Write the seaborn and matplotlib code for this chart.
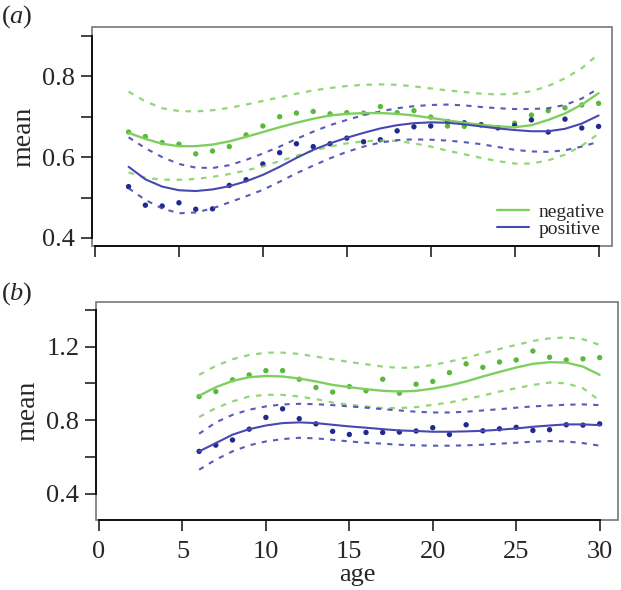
import numpy as np
import pandas as pd
import matplotlib
matplotlib.use('Agg')
import matplotlib.pyplot as plt
from matplotlib.lines import Line2D
from matplotlib.patches import Rectangle
import seaborn as sns

# panel (a): ages 2..30
age_a = list(range(2, 31))
neg_pts_a = [0.662, 0.651, 0.636, 0.632, 0.608, 0.615, 0.626, 0.655, 0.677, 0.700,
             0.709, 0.713, 0.707, 0.710, 0.709, 0.725, 0.710, 0.715, 0.699, 0.677,
             0.676, 0.680, 0.672, 0.684, 0.704, 0.715, 0.722, 0.729, 0.733]
pos_pts_a = [0.527, 0.481, 0.479, 0.487, 0.471, 0.472, 0.530, 0.544, 0.583, 0.611,
             0.633, 0.626, 0.633, 0.647, 0.638, 0.643, 0.665, 0.675, 0.677, 0.688,
             0.685, 0.680, 0.673, 0.678, 0.692, 0.662, 0.694, 0.672, 0.676]
neg_fit_a = [0.660, 0.645, 0.633, 0.627, 0.627, 0.631, 0.639, 0.650, 0.662, 0.674,
             0.685, 0.695, 0.703, 0.707, 0.709, 0.709, 0.707, 0.703, 0.697, 0.691,
             0.685, 0.680, 0.676, 0.674, 0.679, 0.692, 0.708, 0.730, 0.758]
neg_hi_a = [0.762, 0.738, 0.721, 0.714, 0.713, 0.716, 0.722, 0.730, 0.739, 0.748,
            0.757, 0.765, 0.771, 0.776, 0.779, 0.780, 0.779, 0.775, 0.770, 0.765,
            0.761, 0.757, 0.755, 0.757, 0.763, 0.776, 0.795, 0.820, 0.855]
neg_lo_a = [0.562, 0.549, 0.544, 0.544, 0.546, 0.551, 0.558, 0.567, 0.577, 0.590,
            0.603, 0.616, 0.626, 0.634, 0.639, 0.641, 0.640, 0.634, 0.626, 0.616,
            0.607, 0.598, 0.590, 0.584, 0.584, 0.592, 0.606, 0.628, 0.658]
pos_fit_a = [0.576, 0.545, 0.527, 0.518, 0.516, 0.520, 0.528, 0.540, 0.556, 0.576,
             0.598, 0.618, 0.634, 0.648, 0.660, 0.671, 0.679, 0.684, 0.686, 0.685,
             0.681, 0.676, 0.671, 0.667, 0.664, 0.664, 0.670, 0.683, 0.703]
pos_hi_a = [0.649, 0.622, 0.600, 0.583, 0.574, 0.573, 0.580, 0.593, 0.609, 0.626,
            0.645, 0.663, 0.679, 0.692, 0.704, 0.713, 0.721, 0.726, 0.729, 0.730,
            0.728, 0.724, 0.721, 0.719, 0.719, 0.721, 0.729, 0.745, 0.770]
pos_lo_a = [0.523, 0.494, 0.473, 0.461, 0.463, 0.473, 0.488, 0.503, 0.519, 0.539,
            0.560, 0.579, 0.597, 0.613, 0.626, 0.636, 0.642, 0.644, 0.643, 0.641,
            0.637, 0.632, 0.625, 0.618, 0.614, 0.613, 0.617, 0.626, 0.638]

# panel (b): ages 6..30
age_b = list(range(6, 31))
neg_pts_b = [0.929, 0.956, 1.020, 1.047, 1.070, 1.070, 1.023, 0.978, 0.953, 0.983,
             0.960, 1.023, 0.947, 0.996, 1.011, 1.059, 1.107, 1.088, 1.117, 1.128,
             1.177, 1.143, 1.128, 1.134, 1.141]
pos_pts_b = [0.630, 0.664, 0.692, 0.751, 0.815, 0.862, 0.808, 0.780, 0.739, 0.722,
             0.733, 0.733, 0.735, 0.741, 0.759, 0.722, 0.775, 0.742, 0.753, 0.761,
             0.744, 0.748, 0.775, 0.773, 0.780]
neg_fit_b = [0.933, 0.980, 1.014, 1.034, 1.041, 1.038, 1.027, 1.011, 0.992, 0.980,
             0.969, 0.960, 0.956, 0.960, 0.972, 0.989, 1.011, 1.038, 1.063, 1.087,
             1.107, 1.116, 1.114, 1.092, 1.047]
neg_hi_b = [1.047, 1.096, 1.132, 1.155, 1.168, 1.168, 1.161, 1.146, 1.132, 1.117,
            1.105, 1.092, 1.085, 1.088, 1.101, 1.119, 1.141, 1.164, 1.188, 1.210,
            1.232, 1.246, 1.251, 1.241, 1.210]
neg_lo_b = [0.817, 0.866, 0.902, 0.929, 0.938, 0.938, 0.929, 0.915, 0.896, 0.884,
            0.875, 0.866, 0.866, 0.871, 0.884, 0.896, 0.915, 0.934, 0.956, 0.974,
            0.992, 1.005, 1.001, 0.974, 0.907]
pos_fit_b = [0.630, 0.675, 0.721, 0.751, 0.771, 0.784, 0.788, 0.784, 0.775, 0.766,
             0.759, 0.751, 0.744, 0.741, 0.737, 0.737, 0.739, 0.742, 0.748, 0.755,
             0.764, 0.771, 0.777, 0.777, 0.773]
pos_hi_b = [0.726, 0.788, 0.829, 0.857, 0.875, 0.886, 0.889, 0.887, 0.882, 0.875,
            0.868, 0.860, 0.853, 0.846, 0.842, 0.842, 0.846, 0.853, 0.860, 0.868,
            0.875, 0.880, 0.884, 0.886, 0.882]
pos_lo_b = [0.530, 0.585, 0.630, 0.663, 0.684, 0.697, 0.704, 0.701, 0.693, 0.684,
            0.677, 0.672, 0.666, 0.663, 0.661, 0.661, 0.663, 0.666, 0.672, 0.677,
            0.683, 0.686, 0.684, 0.675, 0.661]

green_line = '#7fcf5f'
green_pts = '#5cb83c'
blue_line = '#4848b0'
blue_pts = '#1f2a8c'

sns.set_style('white')
plt.rcParams['font.family'] = ['Liberation Serif', 'DejaVu Serif']
plt.rcParams['mathtext.fontset'] = 'custom'
plt.rcParams['mathtext.it'] = 'Liberation Serif:italic'
plt.rcParams['mathtext.rm'] = 'Liberation Serif'

fig = plt.figure(figsize=(6.21, 5.90), dpi=100)
ax_a = fig.add_axes([92 / 621, 1 - 246 / 590, 520 / 621, 219 / 590])
ax_b = fig.add_axes([96 / 621, 1 - 520 / 590, 522 / 621, 218 / 590])


def draw_panel(ax, ages, neg_pts, pos_pts, neg_fit, neg_hi, neg_lo,
               pos_fit, pos_hi, pos_lo):
    df = pd.DataFrame({'age': ages, 'neg_pts': neg_pts, 'pos_pts': pos_pts,
                       'neg_fit': neg_fit, 'neg_hi': neg_hi, 'neg_lo': neg_lo,
                       'pos_fit': pos_fit, 'pos_hi': pos_hi, 'pos_lo': pos_lo})
    for col in ['neg_hi', 'neg_lo']:
        sns.lineplot(data=df, x='age', y=col, ax=ax, color=green_line, lw=1.6,
                     linestyle=(0, (2.5, 3)), alpha=0.85)
    for col in ['pos_hi', 'pos_lo']:
        sns.lineplot(data=df, x='age', y=col, ax=ax, color=blue_line, lw=1.5,
                     linestyle=(0, (2.5, 3)), alpha=0.9)
    sns.lineplot(data=df, x='age', y='neg_fit', ax=ax, color=green_line, lw=1.7)
    sns.lineplot(data=df, x='age', y='pos_fit', ax=ax, color=blue_line, lw=1.5)
    sns.scatterplot(data=df, x='age', y='neg_pts', ax=ax, color=green_pts, s=15,
                    edgecolor='none')
    sns.scatterplot(data=df, x='age', y='pos_pts', ax=ax, color=blue_pts, s=15,
                    edgecolor='none')


draw_panel(ax_a, age_a, neg_pts_a, pos_pts_a, neg_fit_a, neg_hi_a, neg_lo_a,
           pos_fit_a, pos_hi_a, pos_lo_a)
draw_panel(ax_b, age_b, neg_pts_b, pos_pts_b, neg_fit_b, neg_hi_b, neg_lo_b,
           pos_fit_b, pos_hi_b, pos_lo_b)

ax_a.set_xlim(-0.18, 30.8)
ax_a.set_ylim(0.38, 0.922)
ax_b.set_xlim(-0.18, 31.1)
ax_b.set_ylim(0.256, 1.444)

ax_a.set_yticks([0.4, 0.5, 0.6, 0.7, 0.8, 0.9])
ax_a.set_yticklabels(['0.4', '', '0.6', '', '0.8', ''])
ax_b.set_yticks([0.4, 0.6, 0.8, 1.0, 1.2, 1.4])
ax_b.set_yticklabels(['0.4', '', '0.8', '', '1.2', ''])
for ax in (ax_a, ax_b):
    ax.set_xticks([0, 5, 10, 15, 20, 25, 30])
    ax.tick_params(axis='both', direction='out', length=8, width=1.2,
                   color='#222222', labelsize=19, pad=4, left=True, bottom=True)
    ax.tick_params(axis='x', pad=7)
    for side in ['top', 'right']:
        ax.spines[side].set_visible(False)
    ax.spines['left'].set_color('#111111')
    ax.spines['bottom'].set_color('#111111')
    ax.spines['left'].set_linewidth(1.4)
    ax.spines['bottom'].set_linewidth(1.4)
    ax.spines['bottom'].set_bounds(0, 30)
    ax.add_patch(Rectangle((0, 0), 1, 1, transform=ax.transAxes, fill=False,
                           edgecolor='#777777', lw=1.2, clip_on=False, zorder=0.5))
    ax.set_ylabel('mean', fontsize=20, labelpad=4)

ax_a.spines['left'].set_bounds(0.4, 0.9)
ax_b.spines['left'].set_bounds(0.4, 1.4)
ax_a.set_xticklabels([])
ax_a.set_xlabel('')
ax_b.set_xlabel('age', fontsize=19, labelpad=1)

handles = [Line2D([], [], color=green_line, lw=1.7),
           Line2D([], [], color=blue_line, lw=1.5)]
ax_a.legend(handles, ['negative', 'positive'], loc='lower right', frameon=False,
            fontsize=14, handlelength=1.6, handletextpad=0.5, labelspacing=0.0,
            borderaxespad=0.0)

fig.text(0.002, 0.995, r'($\mathit{a}$)', fontsize=19, va='top', ha='left')
fig.text(0.002, 0.525, r'($\mathit{b}$)', fontsize=19, va='top', ha='left')

fig.savefig('out.png', dpi=100)
